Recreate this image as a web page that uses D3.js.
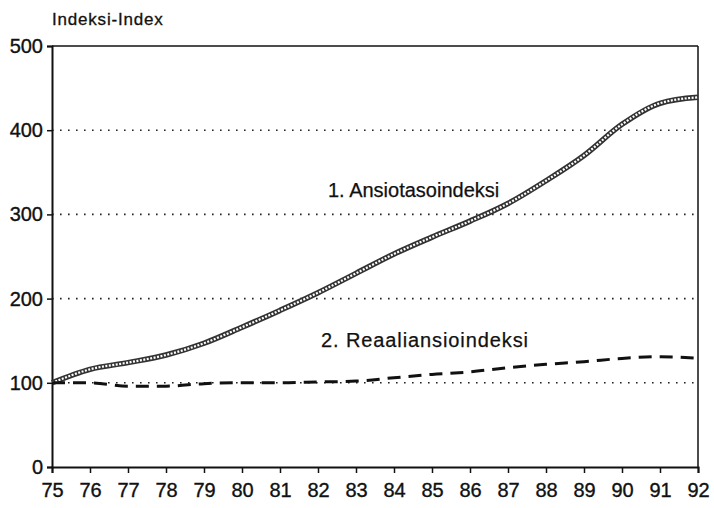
<!DOCTYPE html>
<html lang="fi">
  <head>
    <meta charset="utf-8" />
    <title>Ansiotasoindeksi ja reaaliansioindeksi 1975-1992</title>
    <script src="https://cdn.jsdelivr.net/npm/d3@7"></script>
    <style>
      body { margin: 0; background: #fff; }
      text { font-family: "Liberation Sans", Arial, sans-serif; fill: #111; }
    </style>
  </head>
  <body>
    <script>
      var years = [75, 76, 77, 78, 79, 80, 81, 82, 83, 84, 85, 86, 87, 88, 89, 90, 91, 92]
      var ansiotaso = [100, 116, 124, 133, 147, 166, 186, 207, 230, 253, 273, 292, 313, 340, 370, 407, 432, 439]
      var reaali = [100, 100, 96, 96, 99, 100, 100, 101, 102, 106, 110, 113, 118, 122, 125, 129, 131, 129]
      var yTicks = [0, 100, 200, 300, 400, 500]
      var gridTicks = [100, 200, 300, 400]

      var width = 714, height = 508
      var margin = {top: 46, right: 16, bottom: 41, left: 52}
      var w = width - margin.left - margin.right
      var h = height - margin.top - margin.bottom

      var svg = d3.select("body").append("svg")
                  .attr("width", width)
                  .attr("height", height)

      var g = svg.append("g")
                 .attr("transform", "translate(" + margin.left + "," + margin.top + ")")

      var x = d3.scaleLinear().domain([75, 92]).range([0, w])
      var y = d3.scaleLinear().domain([0, 500]).range([h, 0])

      // dotted grid
      g.selectAll(".grid").data(gridTicks).enter().append("line")
        .attr("x1", 0).attr("x2", w)
        .attr("y1", function(d) { return y(d) }).attr("y2", function(d) { return y(d) })
        .attr("stroke", "#222").attr("stroke-width", 1.6)
        .attr("stroke-dasharray", "1.6,6.4")

      // frame top and right
      g.append("line").attr("x1", 0).attr("x2", w).attr("y1", 0).attr("y2", 0)
        .attr("stroke", "#111").attr("stroke-width", 1.5)
      g.append("line").attr("x1", w).attr("x2", w).attr("y1", 0).attr("y2", h)
        .attr("stroke", "#111").attr("stroke-width", 1.5)

      var xAxis = g.append("g")
        .attr("transform", "translate(0," + h + ")")
        .call(d3.axisBottom(x).tickValues(years).tickFormat(d3.format("d")).tickSize(6).tickPadding(10))
      var yAxis = g.append("g")
        .call(d3.axisLeft(y).tickValues(yTicks).tickSize(5).tickPadding(4))

      svg.selectAll(".domain").attr("stroke", "#111").attr("stroke-width", 2)
      svg.selectAll(".tick line").attr("stroke", "#111").attr("stroke-width", 1.5)
      svg.selectAll(".tick text")
        .style("font-size", "20px")
        .attr("fill", "#111").attr("stroke", "#111").attr("stroke-width", 0.35)

      var line = d3.line()
        .x(function(d, i) { return x(years[i]) })
        .y(function(d) { return y(d) })
        .curve(d3.curveMonotoneX)

      // hatched thick line: dark outer stroke + white dashes inside
      g.append("path").datum(ansiotaso)
        .attr("d", line).attr("fill", "none")
        .attr("stroke", "#333").attr("stroke-width", 5.5)
      g.append("path").datum(ansiotaso)
        .attr("d", line).attr("fill", "none")
        .attr("stroke", "#fff").attr("stroke-width", 2.2)
        .attr("stroke-dasharray", "2,1.5")

      g.append("path").datum(reaali)
        .attr("d", line).attr("fill", "none")
        .attr("stroke", "#111").attr("stroke-width", 3)
        .attr("stroke-dasharray", "13,8")

      g.append("text")
        .attr("x", 328 - margin.left).attr("y", 197 - margin.top)
        .style("font-size", "20px")
        .attr("stroke", "#111").attr("stroke-width", 0.25)
        .text("1. Ansiotasoindeksi")

      g.append("text")
        .attr("x", 321 - margin.left).attr("y", 347 - margin.top)
        .style("font-size", "20px").style("letter-spacing", "0.9px")
        .attr("stroke", "#111").attr("stroke-width", 0.25)
        .text("2. Reaaliansioindeksi")

      svg.append("text")
        .attr("x", 52).attr("y", 25)
        .style("font-size", "17px").style("letter-spacing", "0.8px")
        .attr("stroke", "#111").attr("stroke-width", 0.3)
        .text("Indeksi-Index")
    </script>
  </body>
</html>
